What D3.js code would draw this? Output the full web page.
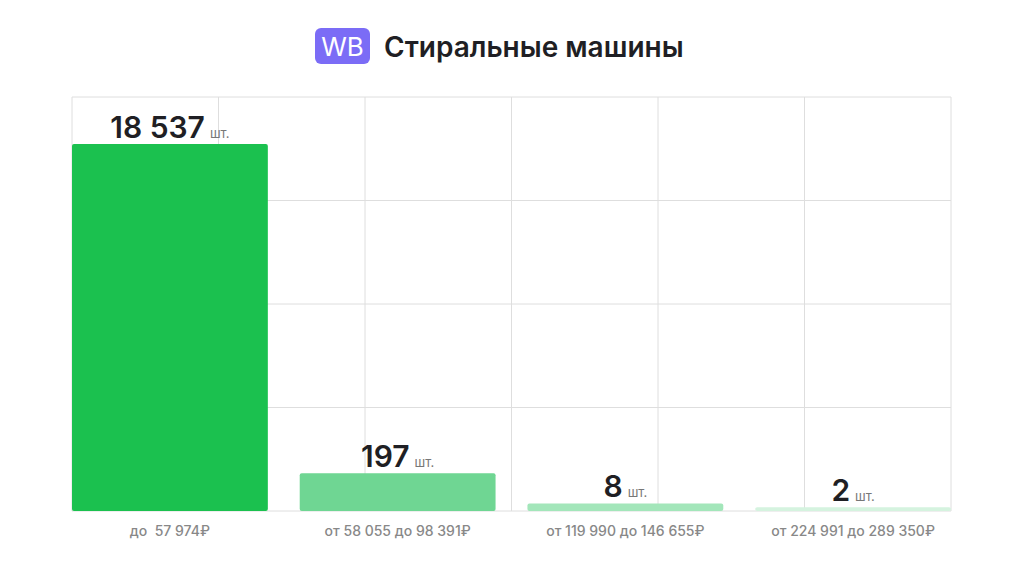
<!DOCTYPE html>
<html><head><meta charset="utf-8">
<script src="https://cdn.jsdelivr.net/npm/d3@7"></script>
<style>body{margin:0;background:#fff;font-family:Inter,"Noto Sans",sans-serif}</style>
</head><body><div id="chart"></div>
<script>
const categories = ["до  57 974₽", "от 58 055 до 98 391₽", "от 119 990 до 146 655₽", "от 224 991 до 289 350₽"];
const values = [18537, 197, 8, 2];
const colors = ["#1bc14f", "#6fd693", "#a3e6ba", "#d5f3df"];

const width = 1024, height = 576;
const plotLeft = 72, plotRight = 951, plotTop = 97, plotBottom = 511;

const svg = d3.select("#chart").append("svg").attr("width", width).attr("height", height);

// grid
const gx = d3.scaleLinear().domain([0, 6]).range([plotLeft, plotRight]);
const gy = d3.scaleLinear().domain([0, 4]).range([plotBottom, plotTop]);
svg.append("g").selectAll("line").data(d3.range(7)).join("line")
  .attr("x1", d => gx(d)).attr("x2", d => gx(d)).attr("y1", plotTop).attr("y2", plotBottom)
  .attr("stroke", "#dedede");
svg.append("g").selectAll("line").data(d3.range(5)).join("line")
  .attr("x1", plotLeft).attr("x2", plotRight).attr("y1", d => gy(d)).attr("y2", d => gy(d))
  .attr("stroke", "#dedede");

const x = d3.scaleBand().domain(categories).range([plotLeft, plotRight]).paddingInner(0.14).paddingOuter(0);
const y = d3.scaleSqrt().domain([0, 18537]).range([plotBottom, 144]);

svg.append("g").selectAll("rect").data(values).join("rect")
  .attr("x", (d, i) => x(categories[i])).attr("width", x.bandwidth())
  .attr("y", d => y(d)).attr("height", d => plotBottom - y(d))
  .attr("rx", 2).attr("fill", (d, i) => colors[i]);

const fmt = v => d3.format(",")(v).replace(/,/g, " ");
const lab = svg.append("g").selectAll("text").data(values).join("text")
  .attr("x", (d, i) => x(categories[i]) + x.bandwidth() / 2)
  .attr("y", d => y(d) - 6)
  .attr("text-anchor", "middle").attr("fill", "#1f1f24");
lab.append("tspan").attr("font-size", 30).attr("font-weight", 600).text(d => fmt(d));
lab.append("tspan").attr("font-size", 13).attr("fill", "#777").attr("dx", 5).text("шт.");

svg.append("g").selectAll("text").data(categories).join("text")
  .attr("x", d => x(d) + x.bandwidth() / 2).attr("y", 536)
  .attr("text-anchor", "middle").attr("font-size", 14).attr("font-weight", 500).attr("fill", "#888")
  .style("white-space", "pre").text(d => d);

// title
svg.append("rect").attr("x", 315).attr("y", 28).attr("width", 55).attr("height", 36).attr("rx", 6).attr("fill", "#7b6cf6");
svg.append("text").attr("x", 342.5).attr("y", 56).attr("text-anchor", "middle")
  .attr("font-size", 26).attr("fill", "#fff").text("WB");
svg.append("text").attr("x", 384).attr("y", 57).attr("font-size", 28).attr("font-weight", 600)
  .attr("fill", "#1f1f24").text("Стиральные машины");
</script></body></html>
